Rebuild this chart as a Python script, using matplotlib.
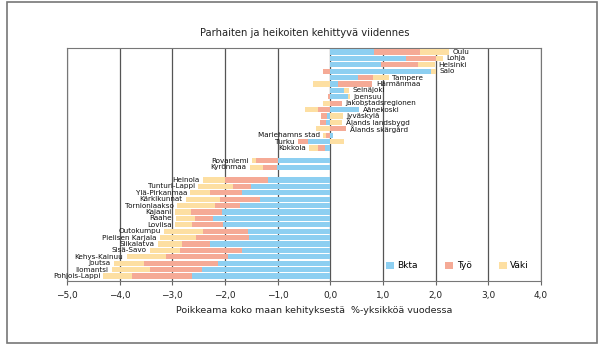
import numpy as np
import matplotlib
matplotlib.use("Agg")
import matplotlib.pyplot as plt
from matplotlib.patches import Rectangle
from matplotlib.ticker import FuncFormatter

plt.rcParams["font.family"] = ["Liberation Sans Narrow", "DejaVu Sans"]

# ── Data (%-units per year vs. whole country) ────────────────────────────────

top_regions = ["Oulu", "Lohja", "Helsinki", "Salo", "Tampere", "Härmänmaa",
               "Seinäjoki", "Joensuu", "Jakobstadsregionen", "Äänekoski",
               "Jyväskylä", "Ålands landsbygd", "Ålands skärgård",
               "Mariehamns stad", "Turku", "Kokkola"]
top_bkta = [0.82, 1.43, 0.97, 1.92, 0.53, 0.15, 0.25, 0.34, 0.00, 0.55,
            -0.06, -0.09, 0.00, 0.05, -0.42, -0.11]
top_tyo  = [0.89, 0.58, 0.70, -0.14, 0.28, 0.65, 0.00, -0.05, 0.22, -0.24,
            -0.11, -0.11, 0.30, -0.08, -0.20, -0.13]
top_vaki = [0.54, 0.12, 0.31, 0.09, 0.30, -0.33, 0.10, 0.03, -0.14, -0.25,
            0.24, 0.22, -0.28, -0.06, 0.25, -0.16]

mid_regions = ["Rovaniemi", "Kyrönmaa"]
mid_bkta = [-0.99, -1.02]
mid_tyo  = [-0.42, -0.26]
mid_vaki = [-0.08, -0.25]

low_regions = ["Heinola", "Tunturi-Lappi", "Ylä-Pirkanmaa", "Kärkikunnat",
               "Tornionlaakso", "Kajaani", "Raahe", "Loviisa", "Outokumpu",
               "Pielisen Karjala", "Siikalatva", "Sisä-Savo", "Kehys-Kainuu",
               "Joutsa", "Ilomantsi", "Pohjois-Lappi"]
low_bkta = [-1.18, -1.50, -1.67, -1.34, -1.72, -2.06, -2.22, -2.04, -1.57,
            -1.54, -2.29, -1.67, -1.94, -2.14, -2.43, -2.62]
low_tyo  = [-0.82, -0.35, -0.61, -0.76, -0.47, -0.58, -0.35, -0.59, -0.85,
            -1.02, -0.52, -1.19, -1.19, -1.40, -0.99, -1.15]
low_vaki = [-0.42, -0.66, -0.38, -0.65, -0.73, -0.31, -0.37, -0.32, -0.73,
            -0.68, -0.47, -0.57, -0.74, -0.57, -0.73, -0.54]

series_names  = ["Bkta", "Työ", "Väki"]
series_colors = ["#8dcff1", "#f5aa96", "#fddfa2"]
x_ticks = np.arange(-5, 5, 1)

# ── Layout of rows (one empty row between groups) ────────────────────────────

groups = [
    (top_regions, top_bkta, top_tyo, top_vaki),
    (mid_regions, mid_bkta, mid_tyo, mid_vaki),
    (low_regions, low_bkta, low_tyo, low_vaki),
]

names, ypos, vals = [], [], []
row = 0
for regs, b, t, v in groups:
    for i, r in enumerate(regs):
        names.append(r)
        ypos.append(row)
        vals.append([b[i], t[i], v[i]])
        row += 1
    row += 1
vals = np.array(vals)
ypos = np.array(ypos)

# ── Plot ─────────────────────────────────────────────────────────────────────

fig = plt.figure(figsize=(6.0, 3.47), dpi=100)
ax = fig.add_axes([0.1117, 0.190, 0.79, 0.672])

pos_left = np.zeros(len(names))
neg_left = np.zeros(len(names))
for k in range(3):
    v = vals[:, k]
    left = np.where(v >= 0, pos_left, neg_left)
    ax.barh(ypos, v, left=left, height=0.8, color=series_colors[k],
            label=series_names[k], linewidth=0, zorder=3)
    pos_left += np.where(v >= 0, v, 0)
    neg_left += np.where(v < 0, v, 0)

# region labels at bar ends
net = vals.sum(axis=1)
for i, name in enumerate(names):
    if net[i] >= 0:
        ax.text(pos_left[i] + 0.07, ypos[i], name, ha="left", va="center",
                fontsize=5.2, color="#111111", zorder=4)
    else:
        ax.text(neg_left[i] - 0.06, ypos[i], name, ha="right", va="center",
                fontsize=5.2, color="#111111", zorder=4)

ax.set_xlim(-5, 4)
ax.set_ylim(35.8, -0.65)
ax.set_xticks(x_ticks)
ax.xaxis.set_major_formatter(
    FuncFormatter(lambda x, p: f"{x:.1f}".replace(".", ",").replace("-", "\u2212")))
ax.set_yticks([])
ax.tick_params(axis="x", length=3, width=0.8, color="#666666",
               labelsize=6.5, pad=4, labelcolor="#222222")
ax.grid(axis="x", color="#555555", linewidth=0.9, zorder=1)
ax.set_axisbelow(True)
for s in ax.spines.values():
    s.set_color("#777777")
    s.set_linewidth(0.8)

ax.legend(loc="center left", bbox_to_anchor=(0.655, 0.065), ncol=3,
          frameon=False, fontsize=6.5, handlelength=0.9, handleheight=0.9,
          handletextpad=0.4, columnspacing=3.0)

fig.text(0.508, 0.905, "Parhaiten ja heikoiten kehittyvä viidennes",
         ha="center", va="center", fontsize=7.2, color="#222222")
fig.text(0.523, 0.104, "Poikkeama koko maan kehityksestä  %-yksikköä vuodessa",
         ha="center", va="center", fontsize=6.8, color="#222222")

# outer frame
fig.patches.append(Rectangle((0.012, 0.012), 0.983, 0.982, fill=False,
                             edgecolor="#777777", linewidth=1.2,
                             transform=fig.transFigure))

plt.savefig("out.png", dpi=100)
